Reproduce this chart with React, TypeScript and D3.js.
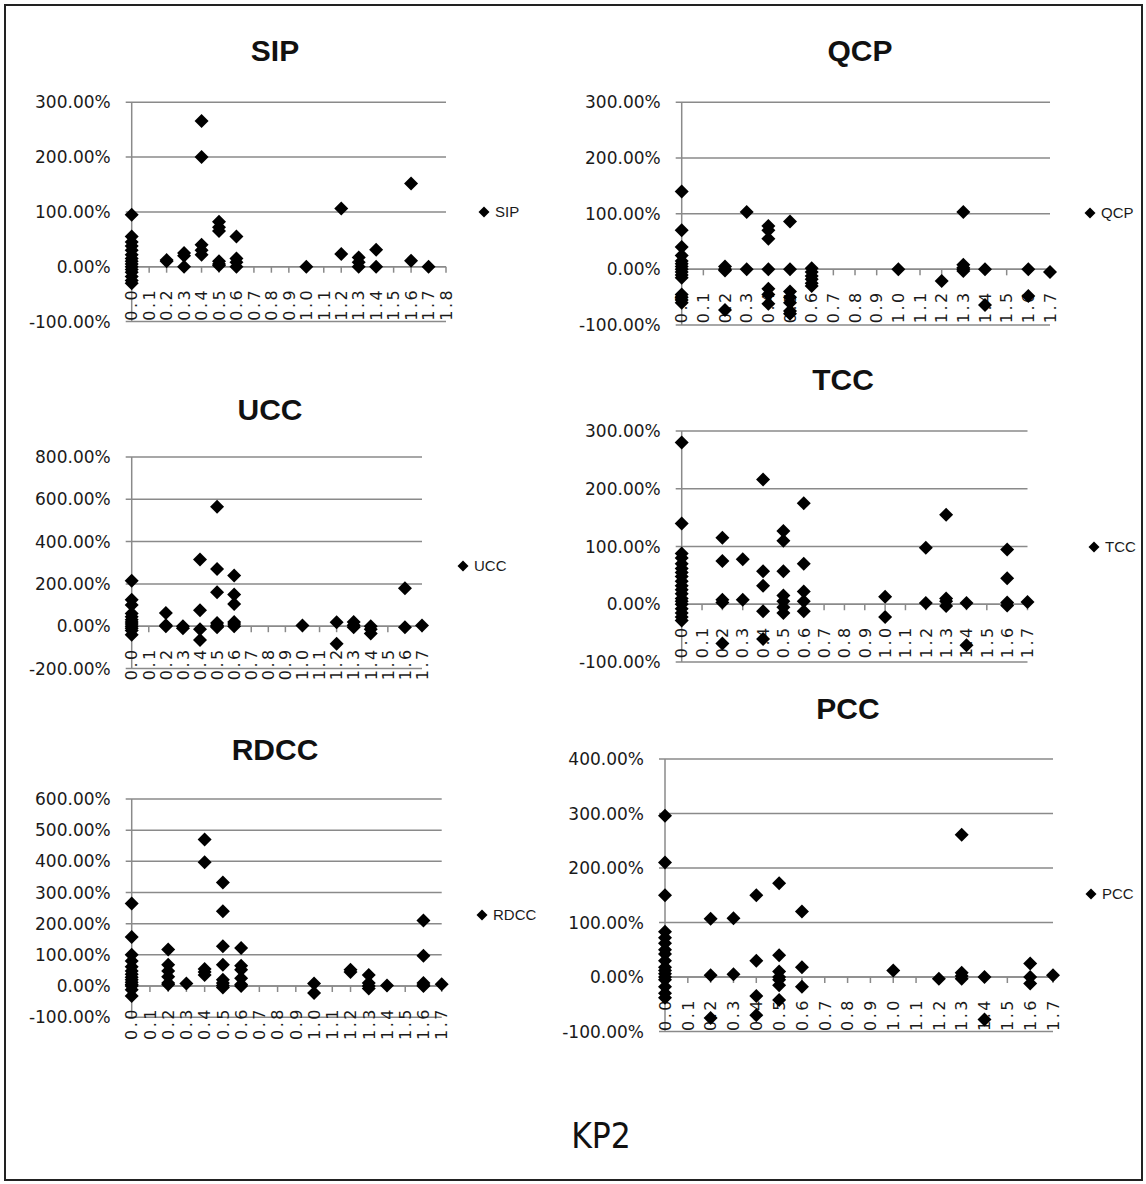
import React from 'react'
import * as d3 from 'd3'

// values are percent changes, grouped by KP2 value on the x axis
const SIP: [number, number[]][] = [
  [0.0, [95, 55, 45, 38, 30, 22, 15, 10, 5, 0, -5, -10, -18, -25, -30]],
  [0.2, [10, 12]],
  [0.3, [25, 20, 0]],
  [0.4, [266, 200, 40, 30, 22]],
  [0.5, [82, 72, 65, 10, 5, 2]],
  [0.6, [55, 15, 8, 0]],
  [1.0, [0]],
  [1.2, [106, 23]],
  [1.3, [17, 8, 0]],
  [1.4, [31, 0]],
  [1.6, [152, 11]],
  [1.7, [0]],
]

const QCP: [number, number[]][] = [
  [0.0, [140, 70, 40, 25, 15, 10, 5, 0, -5, -10, -15, -45, -50, -55, -60]],
  [0.2, [5, 0, -2, -73]],
  [0.3, [103, 0]],
  [0.4, [78, 70, 55, 0, -35, -45, -62]],
  [0.5, [86, 0, -40, -50, -60, -75, -80]],
  [0.6, [2, -5, -12, -18, -25, -30]],
  [1.0, [0]],
  [1.2, [-21]],
  [1.3, [103, 8, 3, 0, -3]],
  [1.4, [0, -64]],
  [1.6, [0, -48]],
  [1.7, [-5]],
]

const UCC: [number, number[]][] = [
  [0.0, [215, 125, 100, 60, 45, 30, 20, 10, 0, -10, -20, -40]],
  [0.2, [62, 5, 0]],
  [0.3, [0, -10]],
  [0.4, [315, 75, -15, -65]],
  [0.5, [565, 270, 160, 15, 5, 0, -5]],
  [0.6, [240, 150, 105, 20, 10, 0]],
  [1.0, [3]],
  [1.2, [19, -83]],
  [1.3, [20, 5, -5]],
  [1.4, [0, -15, -35]],
  [1.6, [180, -5]],
  [1.7, [3]],
]

const TCC: [number, number[]][] = [
  [0.0, [280, 140, 88, 80, 70, 62, 55, 48, 40, 32, 25, 18, 10, 5, 0, -8, -15, -22, -28]],
  [0.2, [115, 75, 8, 3, -68]],
  [0.3, [78, 8]],
  [0.4, [216, 57, 32, -12, -60]],
  [0.5, [127, 110, 57, 15, 5, -5, -15]],
  [0.6, [175, 70, 22, 5, -12]],
  [1.0, [13, -22]],
  [1.2, [98, 2]],
  [1.3, [155, 10, 5, -3]],
  [1.4, [2, -71]],
  [1.6, [95, 45, 3, -2]],
  [1.7, [4]],
]

const RDCC: [number, number[]][] = [
  [0.0, [265, 157, 100, 80, 62, 48, 38, 28, 20, 12, 5, 0, -12, -32]],
  [0.2, [117, 68, 48, 30, 10, 5]],
  [0.3, [8]],
  [0.4, [470, 397, 55, 45, 35]],
  [0.5, [332, 240, 128, 68, 20, 10, 2, -5]],
  [0.6, [122, 65, 52, 25, 5, 0]],
  [1.0, [8, -22]],
  [1.2, [52, 45]],
  [1.3, [35, 10, 0, -8]],
  [1.4, [2]],
  [1.6, [210, 97, 10, 3, 0]],
  [1.7, [6]],
]

const PCC: [number, number[]][] = [
  [0.0, [296, 210, 150, 83, 72, 62, 50, 42, 30, 18, 12, 6, 0, -5, -18, -30, -38]],
  [0.2, [107, 3, -75]],
  [0.3, [108, 5]],
  [0.4, [150, 30, -35, -70]],
  [0.5, [172, 40, 10, 0, -5, -15, -42]],
  [0.6, [120, 18, -18]],
  [1.0, [12]],
  [1.2, [-3]],
  [1.3, [261, 8, 2, -3]],
  [1.4, [0, -78]],
  [1.6, [25, 0, -12]],
  [1.7, [3]],
]

const yTicks300 = [-100, 0, 100, 200, 300]
const yTicksUCC = [-200, 0, 200, 400, 600, 800]
const yTicksRDCC = [-100, 0, 100, 200, 300, 400, 500, 600]
const yTicksPCC = [-100, 0, 100, 200, 300, 400]

const panels = [
  { name: 'SIP', data: SIP, yTicks: yTicks300, xMax: 1.8,
    x0: 131.7, x1: 446, yTop: 102.3, yBot: 321.5, title: [275, 61], legend: [484, 212] },
  { name: 'QCP', data: QCP, yTicks: yTicks300, xMax: 1.7,
    x0: 681.7, x1: 1050, yTop: 102.3, yBot: 325, title: [860, 61], legend: [1090, 213] },
  { name: 'UCC', data: UCC, yTicks: yTicksUCC, xMax: 1.7,
    x0: 131.7, x1: 422, yTop: 457, yBot: 668.5, title: [270, 420], legend: [463, 566] },
  { name: 'TCC', data: TCC, yTicks: yTicks300, xMax: 1.7,
    x0: 681.7, x1: 1027.5, yTop: 431, yBot: 662, title: [843, 390], legend: [1094, 547] },
  { name: 'RDCC', data: RDCC, yTicks: yTicksRDCC, xMax: 1.7,
    x0: 131.7, x1: 441.7, yTop: 799, yBot: 1017.2, title: [275, 760], legend: [482, 915] },
  { name: 'PCC', data: PCC, yTicks: yTicksPCC, xMax: 1.7,
    x0: 665, x1: 1053, yTop: 759, yBot: 1031.5, title: [848, 719], legend: [1091, 894] },
]

const gridColor = '#8a8a8a'
const labelFont = '"DejaVu Sans", sans-serif'
// d3.format writes a unicode minus; Excel uses a plain hyphen
const pct = (t: number) => d3.format('.2f')(t).replace('\u2212', '-') + '%'

const diamond = (r: number) => `M0,${-r}L${r},0L0,${r}L${-r},0Z`

function Panel({ p }: { p: typeof panels[number] }) {
  const yMin = p.yTicks[0]
  const yMax = p.yTicks[p.yTicks.length - 1]
  const x = d3.scaleLinear().domain([0, p.xMax]).range([p.x0, p.x1])
  const y = d3.scaleLinear().domain([yMin, yMax]).range([p.yBot, p.yTop])
  const xTicks = d3.range(0, Math.round(p.xMax * 10) + 1).map(i => i / 10)
  const points = p.data.flatMap(([xv, vals]) => vals.map(v => [xv, v]))
  const y0 = y(0)

  return (
    <g>
      <text x={p.title[0]} y={p.title[1]} textAnchor="middle"
        fontFamily='"Liberation Sans", Arial, sans-serif' fontWeight="bold" fontSize={30} fill="#111">
        {p.name}
      </text>

      {/* gridlines + y tick labels */}
      {p.yTicks.map(t => (
        <g key={t}>
          <line x1={p.x0 - 6} x2={p.x1} y1={y(t)} y2={y(t)} stroke={gridColor} strokeWidth={1.5} />
          <text x={p.x0 - 21} y={y(t)} dy="0.36em" textAnchor="end"
            fontFamily={labelFont} fontSize={17} fill="#1a1a1a">
            {pct(t)}
          </text>
        </g>
      ))}

      {/* y axis */}
      <line x1={p.x0} x2={p.x0} y1={p.yTop} y2={p.yBot} stroke={gridColor} strokeWidth={1.5} />

      {/* x axis crossing at 0 */}
      <line x1={p.x0} x2={p.x1} y1={y0} y2={y0} stroke={gridColor} strokeWidth={1.5} />
      {xTicks.map(t => (
        <g key={t}>
          <line x1={x(t)} x2={x(t)} y1={y0} y2={y0 + 6} stroke={gridColor} strokeWidth={1.5} />
          <text transform={`translate(${x(t)},${y0 + 21}) rotate(-90)`} textAnchor="end" dy="0.36em"
            fontFamily={labelFont} fontSize={16} letterSpacing={2.5} fill="#1a1a1a">
            {d3.format('.1f')(t)}
          </text>
        </g>
      ))}

      {points.map(([xv, v], i) => (
        <path key={i} d={diamond(7)} transform={`translate(${x(xv)},${y(v)})`} fill="#000" />
      ))}

      {/* legend */}
      <path d={diamond(5.5)} transform={`translate(${p.legend[0]},${p.legend[1]})`} fill="#000" />
      <text x={p.legend[0] + 11} y={p.legend[1]} dy="0.36em"
        fontFamily='"Liberation Sans", Arial, sans-serif' fontSize={15} fill="#1a1a1a">
        {p.name}
      </text>
    </g>
  )
}

export default function App() {
  return (
    <svg width={1146} height={1184} style={{ position: 'absolute', left: 0, top: 0, background: '#fff' }}>
      <rect x={0} y={0} width={1146} height={1184} fill="#fff" />
      <rect x={5} y={5} width={1137} height={1175} fill="none" stroke="#222" strokeWidth={2} />
      {panels.map(p => <Panel key={p.name} p={p} />)}
      <text x={601} y={1148} textAnchor="middle"
        fontFamily='"Liberation Sans Narrow", "DejaVu Sans Condensed", sans-serif' fontSize={35} fill="#111">
        KP2
      </text>
    </svg>
  )
}
